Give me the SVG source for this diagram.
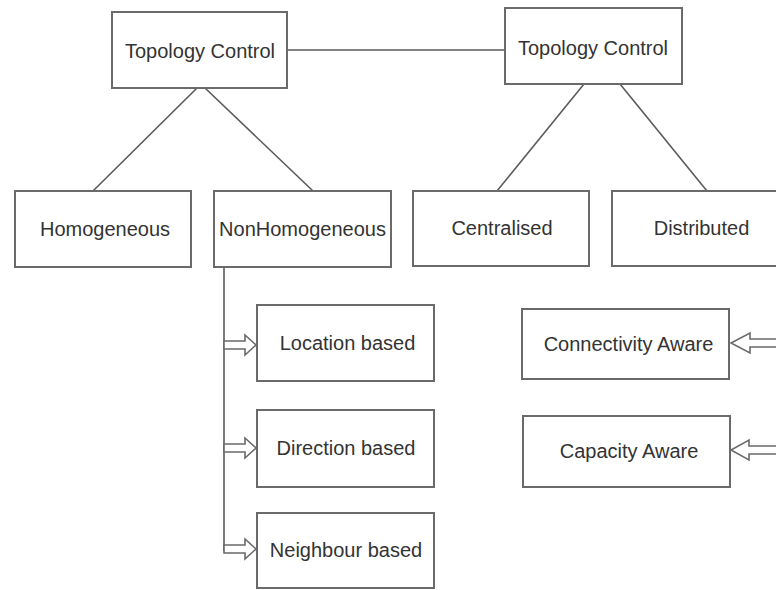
<svg xmlns="http://www.w3.org/2000/svg" width="776" height="590" viewBox="0 0 776 590">
  <style>
    .box { fill: #ffffff; stroke: #6a6a6a; stroke-width: 2; }
    .lbl { font-family: "Liberation Sans", Arial, sans-serif; font-size: 20px; fill: #333333; text-anchor: middle; }
    .wire { fill: none; stroke: #5a5a5a; stroke-width: 1.6; }
    .hollow { fill: #ffffff; stroke: #6a6a6a; stroke-width: 1.6; stroke-linejoin: miter; }
  </style>
  <rect width="776" height="590" fill="#ffffff"/>

  <!-- connectors -->
  <g id="connectors">
    <line class="wire" x1="287" y1="50" x2="505" y2="50"/>
    <line class="wire" x1="197" y1="88" x2="93" y2="191"/>
    <line class="wire" x1="205" y1="88" x2="313" y2="191"/>
    <line class="wire" x1="584" y1="84" x2="497" y2="191"/>
    <line class="wire" x1="620" y1="84" x2="707" y2="191"/>
    <line class="wire" x1="224" y1="267" x2="224" y2="551"/>
    <!-- hollow block arrows into the NonHomogeneous sub-types -->
    <polygon class="hollow" points="224,341 245,341 245,335 256,345 245,355 245,349 224,349"/>
    <polygon class="hollow" points="224,444 245,444 245,438 256,448 245,458 245,452 224,452"/>
    <polygon class="hollow" points="224,545 245,545 245,539 256,549 245,559 245,553 224,553"/>
    <!-- hollow block arrows entering from the right edge -->
    <path class="hollow" d="M778,339 L750,339 L750,333 L731,343 L750,353 L750,347 L778,347"/>
    <path class="hollow" d="M778,446 L749,446 L749,440 L731,450 L749,460 L749,454 L778,454"/>
  </g>

  <g id="tc-left">
    <rect class="box" x="112" y="12" width="175" height="76"/>
    <text class="lbl" x="200" y="58">Topology Control</text>
  </g>
  <g id="tc-right">
    <rect class="box" x="505" y="8" width="177" height="76"/>
    <text class="lbl" x="593" y="55">Topology Control</text>
  </g>
  <g id="homogeneous">
    <rect class="box" x="15" y="191" width="176" height="76"/>
    <text class="lbl" x="105" y="236">Homogeneous</text>
  </g>
  <g id="nonhomogeneous">
    <rect class="box" x="214" y="191" width="177" height="76"/>
    <text class="lbl" x="302.5" y="236">NonHomogeneous</text>
  </g>
  <g id="centralised">
    <rect class="box" x="413" y="191" width="176" height="75"/>
    <text class="lbl" x="502" y="235">Centralised</text>
  </g>
  <g id="distributed">
    <rect class="box" x="612" y="191" width="170" height="75"/>
    <text class="lbl" x="701.5" y="235">Distributed</text>
  </g>
  <g id="location">
    <rect class="box" x="257" y="305" width="177" height="76"/>
    <text class="lbl" x="347.5" y="350">Location based</text>
  </g>
  <g id="direction">
    <rect class="box" x="257" y="410" width="177" height="77"/>
    <text class="lbl" x="346" y="455">Direction based</text>
  </g>
  <g id="neighbour">
    <rect class="box" x="257" y="513" width="177" height="75"/>
    <text class="lbl" x="346" y="557">Neighbour based</text>
  </g>
  <g id="connectivity">
    <rect class="box" x="522" y="309" width="207" height="70"/>
    <text class="lbl" x="628.5" y="351">Connectivity Aware</text>
  </g>
  <g id="capacity">
    <rect class="box" x="523" y="416" width="207" height="71"/>
    <text class="lbl" x="629" y="458">Capacity Aware</text>
  </g>
</svg>
